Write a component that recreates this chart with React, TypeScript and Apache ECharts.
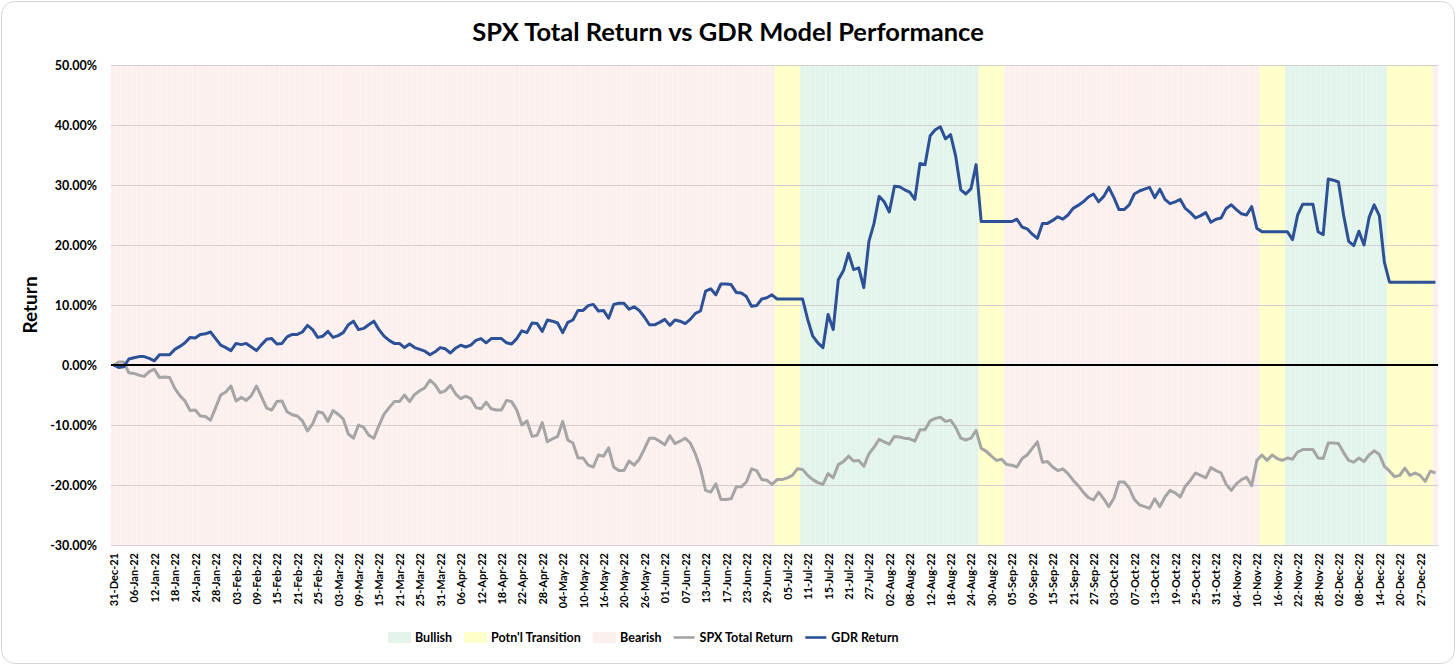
import React, { useEffect, useRef } from "react";
import * as echarts from "echarts";

// ---------- DATA ----------
const TITLE = "SPX Total Return vs GDR Model Performance";
const START_DATE = "2021-12-31";
const END_DATE = "2022-12-30";
const EXCLUDED_DATES = ["26-Dec-22"];

const GDR_RETURN = [
  0, -0.4, -0.3, 1.0, 1.2, 1.4, 1.4, 1.1, 0.7, 1.7,
  1.7, 1.7, 2.6, 3.1, 3.7, 4.6, 4.5, 5.1, 5.2, 5.5,
  4.4, 3.3, 2.9, 2.4, 3.6, 3.4, 3.6, 3.0, 2.4, 3.4,
  4.3, 4.4, 3.5, 3.6, 4.7, 5.1, 5.1, 5.5, 6.6, 5.9,
  4.6, 4.8, 5.6, 4.6, 4.9, 5.4, 6.7, 7.3, 5.9, 6.1,
  6.7, 7.3, 5.9, 4.8, 4.1, 3.6, 3.6, 2.9, 3.5, 2.9,
  2.6, 2.3, 1.7, 2.2, 2.9, 2.7, 2.0, 2.8, 3.3, 3.0,
  3.3, 4.1, 4.4, 3.7, 4.4, 4.4, 4.4, 3.7, 3.5, 4.4,
  5.7, 5.4, 7.0, 6.9, 5.6, 7.5, 7.3, 7.0, 5.4, 7.1,
  7.5, 9.1, 9.1, 9.9, 10.1, 9.0, 9.1, 7.8, 10.1, 10.3,
  10.3, 9.3, 9.7, 9.1, 8.0, 6.7, 6.7, 7.1, 7.6, 6.6,
  7.5, 7.3, 6.9, 7.6, 8.6, 9.0, 12.3, 12.7, 11.7, 13.5,
  13.5, 13.4, 12.1, 12.0, 11.4, 9.8, 9.9, 11.0, 11.2, 11.7,
  11.0, 11.0, 11.0, 11.0, 11.0, 11.0, 7.6, 4.8, 3.7, 2.9,
  8.4, 5.9, 14.2, 15.7, 18.6, 15.9, 16.2, 12.9, 20.6, 23.6,
  28.1, 27.2, 25.5, 29.8, 29.7, 29.2, 28.8, 27.6, 33.6, 33.4,
  38.2, 39.2, 39.7, 37.7, 38.4, 34.8, 29.2, 28.5, 29.4, 33.4,
  23.9, 23.9, 23.9, 23.9, 23.9, 23.9, 23.9, 24.3, 23.0, 22.7,
  21.8, 21.1, 23.6, 23.6, 24.1, 24.7, 24.3, 25.0, 26.1, 26.6,
  27.2, 28.0, 28.5, 27.2, 28.1, 29.6, 27.9, 25.9, 25.9, 26.7,
  28.5, 29.0, 29.3, 29.6, 27.9, 29.3, 27.6, 26.9, 27.2, 27.6,
  26.1, 25.4, 24.5, 24.9, 25.4, 23.8, 24.3, 24.5, 26.1, 26.7,
  25.9, 25.2, 25.0, 26.4, 22.8, 22.2, 22.2, 22.2, 22.2, 22.2,
  22.2, 20.9, 25.0, 26.8, 26.8, 26.8, 22.2, 21.7, 31.0, 30.8,
  30.5, 25.0, 20.6, 19.9, 22.3, 20.0, 24.6, 26.7, 24.9, 17.1,
  13.8, 13.8, 13.8, 13.8, 13.8, 13.8, 13.8, 13.8, 13.8, 13.8,
];

const SPX_TOTAL_RETURN = [
  0, 0.5, 0.5, -1.3, -1.4, -1.7, -1.9, -1.1, -0.7, -2.1,
  -2.0, -2.1, -3.9, -5.1, -6.0, -7.6, -7.5, -8.5, -8.6, -9.2,
  -7.1, -5.0, -4.5, -3.5, -6.0, -5.4, -5.9, -5.1, -3.5, -5.3,
  -7.2, -7.5, -6.1, -6.0, -7.8, -8.3, -8.5, -9.3, -11.0, -9.8,
  -7.8, -8.0, -9.4, -7.6, -8.2, -9.0, -11.5, -12.2, -10.0, -10.4,
  -11.7, -12.2, -10.1, -8.2, -7.1, -6.1, -6.1, -5.0, -6.1, -4.9,
  -4.3, -3.8, -2.5, -3.3, -4.6, -4.3, -3.4, -4.8, -5.6, -5.2,
  -5.6, -7.1, -7.3, -6.2, -7.3, -7.5, -7.5, -5.9, -6.1, -7.5,
  -10.0, -9.3, -11.9, -11.7, -9.6, -12.8, -12.3, -11.9, -9.4, -12.5,
  -13.0, -15.5, -15.5, -16.7, -17.0, -15.0, -15.2, -13.8, -17.0, -17.6,
  -17.6, -16.0, -16.7, -15.7, -14.0, -12.2, -12.2, -12.7, -13.3, -11.8,
  -13.1, -12.7, -12.2, -13.0, -14.8, -17.3, -20.9, -21.2, -19.8, -22.4,
  -22.4, -22.3, -20.3, -20.3, -19.5, -17.3, -17.6, -19.1, -19.2, -19.9,
  -19.1, -19.1, -18.8, -18.4, -17.3, -17.4, -18.4, -19.1, -19.6, -19.9,
  -18.1, -18.8, -16.6, -16.1, -15.2, -16.0, -15.9, -16.9, -14.8, -13.7,
  -12.4, -12.8, -13.2, -11.9, -12.0, -12.2, -12.3, -12.7, -10.8, -10.8,
  -9.3, -8.9, -8.7, -9.4, -9.2, -10.4, -12.2, -12.5, -12.2, -10.9,
  -13.9, -14.4, -15.2, -15.9, -15.7, -16.6, -16.7, -17.0, -15.6, -15.0,
  -13.9, -12.8, -16.2, -16.1, -17.0, -17.6, -17.3, -18.1, -19.2, -20.1,
  -21.2, -22.1, -22.5, -21.2, -22.3, -23.6, -22.2, -19.5, -19.5, -20.5,
  -22.4, -23.3, -23.6, -23.9, -22.3, -23.6, -22.0, -20.9, -21.3, -22.0,
  -20.2, -19.2, -18.0, -18.4, -18.8, -17.1, -17.6, -18.0, -19.9, -20.9,
  -19.8, -19.1, -18.7, -20.1, -15.9, -15.0, -15.9, -15.0, -15.6, -15.9,
  -15.5, -15.7, -14.5, -14.1, -14.1, -14.1, -15.5, -15.6, -13.0, -13.0,
  -13.1, -14.6, -15.9, -16.2, -15.5, -16.1, -15.0, -14.3, -14.9, -16.9,
  -17.7, -18.6, -18.4, -17.2, -18.4, -18.0, -18.4, -19.4, -17.7, -18.0,
];

// regime changes: [first date of regime, regime name]
const REGIME_CHANGES: [string, string][] = [
  ["31-Dec-21", "Bearish"],
  ["01-Jul-22", "Potn'l Transition"],
  ["08-Jul-22", "Bullish"],
  ["26-Aug-22", "Potn'l Transition"],
  ["02-Sep-22", "Bearish"],
  ["11-Nov-22", "Potn'l Transition"],
  ["18-Nov-22", "Bullish"],
  ["16-Dec-22", "Potn'l Transition"],
  ["30-Dec-22", "Bearish"],
];

const REGIMES = ["Bullish", "Potn'l Transition", "Bearish"];
const REGIME_COLORS: Record<string, string> = {
  Bullish: "#e3f5eb",
  "Potn'l Transition": "#ffffc9",
  Bearish: "#fcf0ef",
};
const SPX_COLOR = "#a5a5a5";
const GDR_COLOR = "#2c5196";
const Y_MIN = -30;
const Y_MAX = 50;
const Y_STEP = 10;

// ---------- helpers ----------
const MONTHS = ["Jan", "Feb", "Mar", "Apr", "May", "Jun", "Jul", "Aug", "Sep", "Oct", "Nov", "Dec"];
function buildDates(): string[] {
  const out: string[] = [];
  const d = new Date(START_DATE + "T00:00:00Z");
  const end = new Date(END_DATE + "T00:00:00Z");
  while (d.getTime() <= end.getTime()) {
    const wd = d.getUTCDay();
    if (wd !== 0 && wd !== 6) {
      const s =
        String(d.getUTCDate()).padStart(2, "0") +
        "-" +
        MONTHS[d.getUTCMonth()] +
        "-" +
        String(d.getUTCFullYear() % 100).padStart(2, "0");
      if (!EXCLUDED_DATES.includes(s)) out.push(s);
    }
    d.setUTCDate(d.getUTCDate() + 1);
  }
  return out;
}

const FONT = "Lato";
const LINE_ICON = "path://M0,0H24V3H0Z";

export default function App() {
  const ref = useRef<HTMLDivElement>(null);

  useEffect(() => {
    if (!ref.current) return;
    const chart = echarts.init(ref.current, null, { renderer: "svg" });
    const dates = buildDates();

    const regimeAt: string[] = [];
    let cur = REGIME_CHANGES[0][1];
    let k = 0;
    dates.forEach((d) => {
      while (k < REGIME_CHANGES.length && REGIME_CHANGES[k][0] === d) {
        cur = REGIME_CHANGES[k][1];
        k++;
      }
      regimeAt.push(cur);
    });

    const bandSeries: any[] = [];
    REGIMES.forEach((r) => {
      [Y_MAX, Y_MIN].forEach((v) => {
        bandSeries.push({
          name: r,
          type: "bar",
          data: regimeAt.map((x) => (x === r ? v : "-")),
          barGap: "-100%",
          barCategoryGap: "0%",
          itemStyle: { color: REGIME_COLORS[r], borderColor: REGIME_COLORS[r], borderWidth: 0.8 },
          silent: true,
          z: -1,
        });
      });
    });

    const option: any = {
      animation: false,
      backgroundColor: "transparent",
      title: {
        text: TITLE,
        left: "center",
        top: 13,
        textStyle: { fontFamily: FONT, fontSize: 25.5, fontWeight: "bold", color: "#000" },
      },
      grid: { left: 111, right: 18, top: 65, bottom: 120, containLabel: false },
      legend: {
        data: [
          ...REGIMES.map((r) => ({ name: r, icon: "rect" })),
          { name: "SPX Total Return", icon: LINE_ICON },
          { name: "GDR Return", icon: LINE_ICON },
        ],
        bottom: 16,
        left: 383,
        itemWidth: 21,
        itemHeight: 9,
        itemGap: 12,
        textStyle: { fontFamily: FONT, fontSize: 12.5, fontWeight: "bold", color: "#000" },
      },
      xAxis: {
        type: "category",
        data: dates,
        boundaryGap: true,
        axisTick: { show: false },
        axisLine: { show: true, lineStyle: { color: "#d4cfcf", width: 1 } },
        axisLabel: {
          interval: 3,
          rotate: 90,
          fontFamily: FONT,
          fontSize: 11,
          fontWeight: "bold",
          color: "#000",
          margin: 8,
        },
      },
      yAxis: {
        type: "value",
        min: Y_MIN,
        max: Y_MAX,
        interval: Y_STEP,
        name: "Return",
        nameLocation: "middle",
        nameRotate: 90,
        nameGap: 64,
        nameTextStyle: { fontFamily: FONT, fontSize: 19, fontWeight: "bold", color: "#000" },
        axisLine: { show: false },
        axisTick: { show: false },
        splitLine: { show: true, lineStyle: { color: "#d4cfcf", width: 1 } },
        axisLabel: {
          formatter: (v: number) => v.toFixed(2) + "%",
          fontFamily: FONT,
          fontSize: 12.5,
          fontWeight: "bold",
          color: "#000",
          margin: 14,
        },
      },
      series: [
        ...bandSeries,
        {
          name: "SPX Total Return",
          type: "line",
          data: SPX_TOTAL_RETURN,
          symbol: "none",
          lineStyle: { color: SPX_COLOR, width: 3, join: "round" },
          itemStyle: { color: SPX_COLOR },
          z: 3,
          markLine: {
            silent: true,
            symbol: ["none", "none"],
            label: { show: false },
            lineStyle: { color: "#000", width: 2, type: "solid" },
            data: [{ yAxis: 0 }],
          },
        },
        {
          name: "GDR Return",
          type: "line",
          data: GDR_RETURN,
          symbol: "none",
          lineStyle: { color: GDR_COLOR, width: 3, join: "round" },
          itemStyle: { color: GDR_COLOR },
          z: 4,
        },
      ],
    };

    chart.setOption(option);
    return () => chart.dispose();
  }, []);

  return (
    <div style={{ position: "fixed", left: 0, top: 0, width: 1456, height: 665, background: "#fff" }}>
      <div
        style={{
          position: "absolute",
          left: 1,
          top: 1,
          width: 1452,
          height: 661,
          border: "1px solid #d6d6d6",
          borderRadius: 14,
        }}
      />
      <div ref={ref} style={{ position: "absolute", left: 0, top: 0, width: 1456, height: 665 }} />
    </div>
  );
}
